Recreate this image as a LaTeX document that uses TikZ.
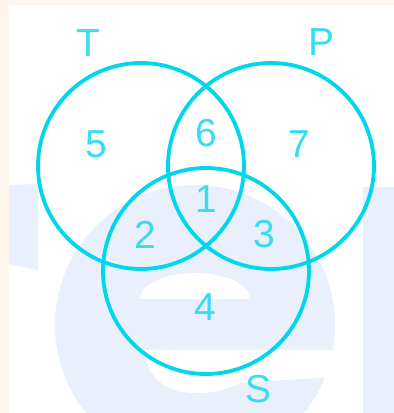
\documentclass[tikz,border=0pt]{standalone}
\usepackage{fontspec}
\setmainfont{Liberation Sans}
\definecolor{cream}{HTML}{FDF6EC}
\definecolor{wm}{HTML}{E9F0FB}
\definecolor{ring}{HTML}{00D6EC}
\definecolor{lab}{HTML}{38DCF0}
\begin{document}
\begin{tikzpicture}[x=1pt,y=-1pt,
  ringstyle/.style={draw=ring,line width=3.8pt},
  labstyle/.style={text=lab,font=\fontsize{39}{39}\selectfont,anchor=base,inner sep=0pt}]
\useasboundingbox (0,0) rectangle (394,413);
% background
\fill[cream] (0,0) rectangle (394,413);
\fill[white] (9,5) rectangle (394,413);
% watermark
\begin{scope}
\clip (9,5) rectangle (394,413);
\fill[wm] (195,325) circle[radius=140];
\fill[white] (140,299) arc[start angle=180,end angle=360,x radius=55,y radius=26] -- cycle;
\fill[white] (145,350) -- (332,350) -- (332,377) -- (240,383)
  .. controls (220,392) and (205,394) .. (190,393)
  .. controls (160,390) and (145,372) .. (145,350);
\fill[wm] (363,187) rectangle (394,413);
\fill[wm] (9,185) -- (38,184) -- (38,270) .. controls (25,267) .. (9,265) -- cycle;
\end{scope}
% circles
\node[ringstyle,circle,minimum size=206pt,inner sep=0pt] (T) at (141,166) {};
\node[ringstyle,circle,minimum size=206pt,inner sep=0pt] (P) at (271,166) {};
\node[ringstyle,circle,minimum size=206pt,inner sep=0pt] (S) at (206,271) {};
% labels
\node[labstyle] (lT) at (88,56) {T};
\node[labstyle] (lP) at (322,55) {P};
\node[labstyle] (lS) at (259,402) {S};
\node[labstyle] (n5) at (96,157) {5};
\node[labstyle] (n6) at (206,146) {6};
\node[labstyle] (n7) at (299,157) {7};
\node[labstyle] (n1) at (206,212) {1};
\node[labstyle] (n2) at (145,248) {2};
\node[labstyle] (n3) at (264,247) {3};
\node[labstyle] (n4) at (205,320) {4};
\end{tikzpicture}
\end{document}
